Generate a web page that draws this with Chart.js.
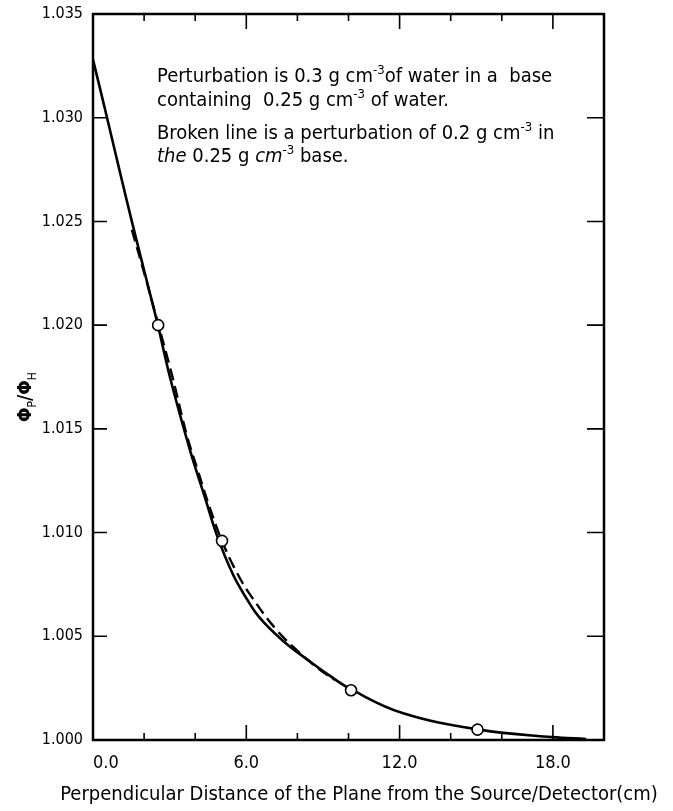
<!DOCTYPE html>
<html>
<head>
<meta charset="utf-8">
<script src="https://cdn.jsdelivr.net/npm/chart.js@4.4.0/dist/chart.umd.min.js"></script>
<style>
  body { margin: 0; background: #fff; }
</style>
</head>
<body>
<canvas id="myChart" width="673" height="811"></canvas>
<script>
// solid line: 0.3 g cm-3 perturbation
const solidX = [0, 0.55, 1.05, 1.52, 2.03, 2.54, 3.01, 3.79, 4.38, 4.84, 5.47, 6.02, 6.52, 7.42, 8.36, 9.26, 10.16, 12.11, 15.12, 17.97, 19.3];
const solidY = [1.0328, 1.0300, 1.0274, 1.0250, 1.0225, 1.0200, 1.0175, 1.0140, 1.0117, 1.0099, 1.0080, 1.0068, 1.0059, 1.0048, 1.0039, 1.0031, 1.0024, 1.0013, 1.0005, 1.00014, 1.00005];
// broken line: 0.2 g cm-3 perturbation
const dashX = [1.52, 2.03, 2.54, 3.09, 3.67, 4.10, 4.57, 5.08, 5.66, 6.21, 7.19, 8.09, 8.87, 9.45];
const dashY = [1.0246, 1.0224, 1.0201, 1.0176, 1.0147, 1.0130, 1.0112, 1.0095, 1.0080, 1.0069, 1.0053, 1.0042, 1.0034, 1.0029];
// measured points (open circles)
const pointX = [2.55, 5.05, 10.1, 15.05];
const pointY = [1.0200, 1.0096, 1.0024, 1.0005];
// labelled ticks
const xLabelled = [0, 6, 12, 18];
const yLabelled = [1.000, 1.005, 1.010, 1.015, 1.020, 1.025, 1.030, 1.035];

const FONT = "'DejaVu Sans Condensed', 'DejaVu Sans', sans-serif";

function toXY(xs, ys) {
    return xs.map((v, i) => ({ x: v, y: ys[i] }));
}

// draw a line of text with superscripts
function drawRich(ctx, parts, x, y, size) {
    parts.forEach(p => {
        const s = p.sup ? size * 0.65 : size;
        ctx.font = (p.it ? 'italic ' : '') + s + 'px ' + FONT;
        ctx.fillText(p.t, x, p.sup ? y - size * 0.42 : y);
        x += ctx.measureText(p.t).width;
    });
}

const decor = {
    id: 'decor',
    afterDraw(chart) {
        const { ctx, chartArea: a, scales: { x, y } } = chart;
        ctx.save();
        ctx.strokeStyle = '#000';
        ctx.fillStyle = '#000';
        ctx.lineWidth = 2.5;
        ctx.strokeRect(a.left, a.top, a.right - a.left, a.bottom - a.top);

        // inward ticks
        ctx.lineWidth = 1.6;
        ctx.beginPath();
        x.ticks.forEach(t => {
            if (t.value <= x.min || t.value >= x.max) return;
            const px = x.getPixelForValue(t.value);
            const len = t.value % 6 === 0 ? 15 : 7;
            ctx.moveTo(px, a.bottom); ctx.lineTo(px, a.bottom - len);
            ctx.moveTo(px, a.top); ctx.lineTo(px, a.top + len);
        });
        y.ticks.forEach(t => {
            if (t.value <= y.min + 1e-9 || t.value >= y.max - 1e-9) return;
            const py = y.getPixelForValue(t.value);
            ctx.moveTo(a.left, py); ctx.lineTo(a.left + 14, py);
            ctx.moveTo(a.right, py); ctx.lineTo(a.right - 17, py);
        });
        ctx.stroke();

        // notes
        ctx.textAlign = 'left';
        ctx.textBaseline = 'alphabetic';
        const size = 20;
        drawRich(ctx, [{ t: 'Perturbation is 0.3 g cm' }, { t: '-3', sup: true }, { t: 'of water in a  base' }], 157, 82, size);
        drawRich(ctx, [{ t: 'containing  0.25 g cm' }, { t: '-3', sup: true }, { t: ' of water.' }], 157, 106, size);
        drawRich(ctx, [{ t: 'Broken line is a perturbation of 0.2 g cm' }, { t: '-3', sup: true }, { t: ' in' }], 157, 139, size);
        drawRich(ctx, [{ t: 'the', it: true }, { t: ' 0.25 g ' }, { t: 'cm', it: true }, { t: '-3', sup: true }, { t: ' base.' }], 157, 162, size);

        // x axis title
        ctx.font = '20px ' + FONT;
        ctx.textAlign = 'center';
        ctx.fillText('Perpendicular Distance of the Plane from the Source/Detector(cm)', 359, 800);

        // y axis title, rotated
        ctx.save();
        ctx.translate(31, 397);
        ctx.rotate(-Math.PI / 2);
        ctx.textAlign = 'left';
        const parts = [{ t: 'Φ' }, { t: 'P', sub: true }, { t: '/Φ' }, { t: 'H', sub: true }];
        let w = 0;
        parts.forEach(p => {
            ctx.font = (p.sub ? '12px ' : 'bold 19px ') + FONT;
            w += ctx.measureText(p.t).width;
        });
        let cx = -w / 2;
        parts.forEach(p => {
            ctx.font = (p.sub ? '12px ' : 'bold 19px ') + FONT;
            ctx.fillText(p.t, cx, p.sub ? 5 : 0);
            cx += ctx.measureText(p.t).width;
        });
        ctx.restore();
        ctx.restore();
    }
};

new Chart(document.getElementById('myChart'), {
    type: 'line',
    data: {
        datasets: [
            {
                type: 'scatter',
                data: toXY(pointX, pointY),
                pointStyle: 'circle',
                pointRadius: 5.5,
                pointBackgroundColor: '#fff',
                pointBorderColor: '#000',
                pointBorderWidth: 1.6,
                order: 0
            },
            {
                data: toXY(solidX, solidY),
                borderColor: '#000',
                borderWidth: 2.6,
                pointRadius: 0,
                tension: 0.4,
                order: 1
            },
            {
                data: toXY(dashX, dashY),
                borderColor: '#000',
                borderWidth: 2.4,
                borderDash: [12, 6],
                pointRadius: 0,
                tension: 0.4,
                order: 2
            }
        ]
    },
    options: {
        responsive: false,
        animation: false,
        plugins: { legend: { display: false }, tooltip: { enabled: false } },
        layout: { padding: { left: 0, top: 14, right: 69, bottom: 0 } },
        scales: {
            x: {
                type: 'linear',
                min: 0,
                max: 20,
                grid: { display: false, drawTicks: false },
                border: { display: false },
                afterFit: s => { s.height = 71; s.paddingLeft = 0; s.paddingRight = 0; },
                ticks: {
                    stepSize: 2,
                    autoSkip: false,
                    maxRotation: 0,
                    align: 'inner',
                    padding: 13,
                    color: '#000',
                    font: { family: FONT, size: 18 },
                    callback: v => xLabelled.includes(v) ? v.toFixed(1) : ''
                }
            },
            y: {
                min: 1.000,
                max: 1.035,
                grid: { display: false, drawTicks: false },
                border: { display: false },
                afterFit: s => { s.width = 93; s.paddingTop = 0; s.paddingBottom = 0; },
                ticks: {
                    stepSize: 0.005,
                    padding: 10,
                    color: '#000',
                    font: { family: FONT, size: 16 },
                    callback: v => yLabelled.some(l => Math.abs(l - v) < 1e-6) ? v.toFixed(3) : ''
                }
            }
        }
    },
    plugins: [decor]
});
</script>
</body>
</html>
